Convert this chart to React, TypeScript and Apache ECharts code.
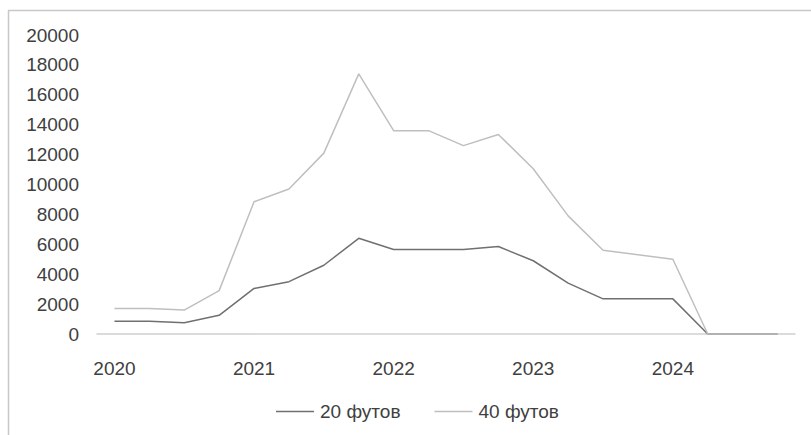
import React, { useEffect, useRef } from "react";
import * as echarts from "echarts";

const quarters = [
  "2020 Q1", "2020 Q2", "2020 Q3", "2020 Q4",
  "2021 Q1", "2021 Q2", "2021 Q3", "2021 Q4",
  "2022 Q1", "2022 Q2", "2022 Q3", "2022 Q4",
  "2023 Q1", "2023 Q2", "2023 Q3", "2023 Q4",
  "2024 Q1", "2024 Q2", "2024 Q3", "2024 Q4",
];

const ft20 = [850, 850, 750, 1250, 3050, 3500, 4600, 6400, 5650, 5650, 5650, 5850, 4900, 3400, 2350, 2350, 2350, 0, 0, 0];
const ft40 = [1700, 1700, 1600, 2900, 8850, 9700, 12100, 17400, 13600, 13600, 12600, 13350, 11050, 7900, 5600, 5300, 5000, 0, 0, 0];

const seriesNames = ["20 футов", "40 футов"];
const yTicks = { min: 0, max: 20000, interval: 2000 };

const FONT = "'Liberation Sans', Arial, sans-serif";
const TEXT = "#404040";

export default function App() {
  const ref = useRef<HTMLDivElement>(null);
  useEffect(() => {
    if (!ref.current) return;
    const chart = echarts.init(ref.current, undefined, { renderer: "svg" });
    chart.setOption({
      animation: false,
      backgroundColor: "#ffffff",
      textStyle: { fontFamily: FONT },
      grid: { left: 97, right: 16, top: 35, bottom: 101, containLabel: false },
      graphic: [
        { type: "line", shape: { x1: 8.5, y1: 10.5, x2: 8.5, y2: 440 }, style: { stroke: "#c8c8c8", lineWidth: 1.5 } },
        { type: "line", shape: { x1: 8, y1: 10.5, x2: 820, y2: 10.5 }, style: { stroke: "#c8c8c8", lineWidth: 1.5 } },
      ],
      legend: {
        top: 397,
        left: 271,
        icon: "rect",
        itemWidth: 38,
        itemHeight: 1.5,
        itemGap: 34,
        data: seriesNames,
        textStyle: { fontFamily: FONT, fontSize: 19, color: TEXT, padding: [0, 0, 0, 1] },
      },
      xAxis: {
        type: "category",
        data: quarters,
        boundaryGap: true,
        axisLine: { show: true, lineStyle: { color: "#d0d0d0", width: 1.5 } },
        axisTick: { show: false },
        axisLabel: {
          interval: 3,
          margin: 25,
          fontFamily: FONT,
          fontSize: 19,
          color: TEXT,
          formatter: (v: string) => v.slice(0, 4),
        },
        splitLine: { show: false },
      },
      yAxis: {
        type: "value",
        min: yTicks.min,
        max: yTicks.max,
        interval: yTicks.interval,
        axisLine: { show: false },
        axisTick: { show: false },
        splitLine: { show: false },
        axisLabel: {
          margin: 18,
          fontFamily: FONT,
          fontSize: 19,
          color: TEXT,
          formatter: (v: number) => String(v),
        },
      },
      series: [
        {
          name: seriesNames[0],
          type: "line",
          data: ft20,
          symbol: "none",
          lineStyle: { color: "#707070", width: 1.5 },
          itemStyle: { color: "#707070" },
        },
        {
          name: seriesNames[1],
          type: "line",
          data: ft40,
          symbol: "none",
          lineStyle: { color: "#bfbfbf", width: 1.5 },
          itemStyle: { color: "#bfbfbf" },
        },
      ],
    });
    return () => chart.dispose();
  }, []);
  return (
    <div
      ref={ref}
      style={{ position: "fixed", left: 0, top: 0, width: 811, height: 435 }}
    />
  );
}
